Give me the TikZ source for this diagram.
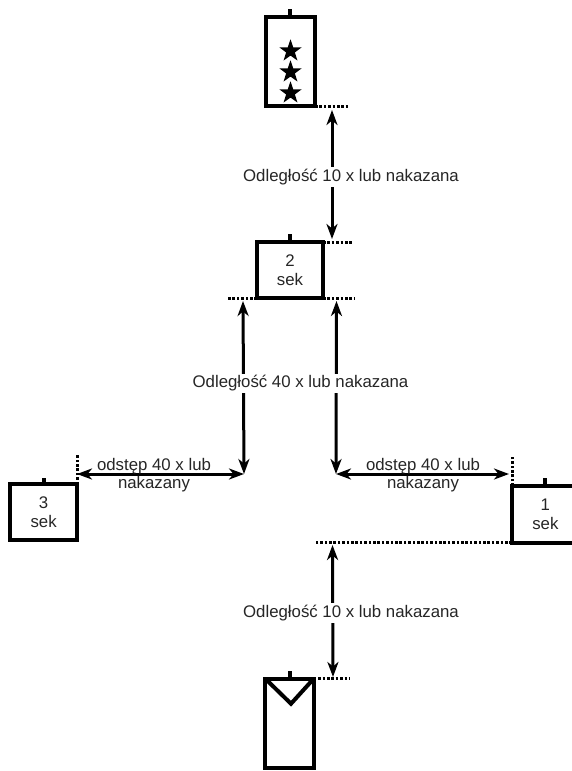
\documentclass[tikz,border=0pt]{standalone}
\usepackage{fontspec}
\setmainfont{Liberation Sans}
\usetikzlibrary{shapes.geometric,arrows.meta,calc}
\begin{document}
\begin{tikzpicture}[x=1pt,y=-1pt,
  box/.style={draw=black,line width=4pt,outer sep=0pt,inner sep=0pt,align=center,
    font=\fontsize{16.8}{18.5}\selectfont,text=black!85},
  tab/.style={line width=4pt},
  dots/.style={line width=3pt,dash pattern=on 2.6pt off 1.8pt},
  arr/.style={line width=3pt,{Stealth[length=15pt,width=11pt,inset=4.5pt]}-{Stealth[length=15pt,width=11pt,inset=4.5pt]}},
  lbl/.style={fill=white,inner sep=2pt,font=\fontsize{16.8}{18.5}\selectfont,text=black!85},
  lbl2/.style={inner sep=0pt,align=center,font=\fontsize{16.8}{18.5}\selectfont,text=black!85},
  starn/.style={star,star points=5,star point ratio=2.55,fill=black,minimum size=23.5pt,inner sep=0pt}]
\useasboundingbox (0,0) rectangle (571,771);
\fill[white] (0,0) rectangle (571,771);

% top rectangle with stars
\node[box,minimum width=49.5pt,minimum height=89pt] (top) at (290.25,61.5) {};
\draw[tab] (top.north) -- ++(0,-8);
\node[starn] (s1) at (290.5,51) {};
\node[starn] (s2) at (290.5,72) {};
\node[starn] (s3) at (290.5,93) {};
\draw[dots] (top.south east) -- ++(35,0) coordinate (d1);

% box 2
\node[box,minimum width=66pt,minimum height=56pt] (b2) at (290,270) {2\\sek};
\draw[tab] (b2.north) -- ++(0,-8);
\draw[dots] (b2.north east) -- ++(30,0) coordinate (d2);
\draw[dots] (b2.south west) -- ++(-30,0) coordinate (d3);
\draw[dots] (b2.south east) -- ++(32,0) coordinate (d4);

% box 3
\node[box,minimum width=66.7pt,minimum height=56pt] (b3) at (43.65,512.2) {3\\sek};
\draw[tab] (b3.north) -- ++(0,-6);
\draw[dots] (b3.north east) -- ++(0,-29) coordinate (d5);

% box 1
\node[box,minimum width=66.7pt,minimum height=57pt] (b1) at (545.35,514.3) {1\\sek};
\draw[tab] (b1.north) -- ++(0,-8);
\draw[dots] (b1.north west) -- ++(0,-30) coordinate (d6);
\draw[dots] (b1.south west) -- ++(-196,0) coordinate (d7);

% bottom rectangle
\node[box,minimum width=48.4pt,minimum height=89pt,anchor=north] (bot) at (289.5,678.7) {};
\draw[tab] (bot.north) -- ++(0,-8);
\draw[line width=4pt,line join=miter] (bot.north west) -- ($(bot.north)+(1.5,25)$) coordinate (vtip) -- (bot.north east);
\draw[dots] (bot.north east) -- ++(36,0) coordinate (d8);

% arrow coordinates
\coordinate (a1s) at (332,110);
\coordinate (a1e) at (332,239);
\coordinate (a2s) at (243,301);
\coordinate (a2e) at (244,474);
\coordinate (a3s) at (336.5,301);
\coordinate (a3e) at (336,474);
\coordinate (h1s) at (77,474);
\coordinate (h2e) at (509,474);
\coordinate (a4s) at (332.5,545);
\coordinate (a4e) at (333,677);

% arrows
\draw[arr] (a1s) -- (a1e);
\draw[arr] (a2s) -- (a2e);
\draw[arr] (a3s) -- (a3e);
\draw[arr] (h1s) -- (a2e);
\draw[arr] (a3e) -- (h2e);
\draw[arr] (a4s) -- (a4e);

% labels
\node[lbl] (l1) at (351,177) {Odległość 10 x lub nakazana};
\node[lbl] (l2) at (300.5,383.5) {Odległość 40 x lub nakazana};
\node[lbl] (l3) at (351,613) {Odległość 10 x lub nakazana};
\node[lbl2] (l4) at (154,475) {odstęp 40 x lub\\nakazany};
\node[lbl2] (l5) at (423,475) {odstęp 40 x lub\\nakazany};
\end{tikzpicture}
\end{document}
